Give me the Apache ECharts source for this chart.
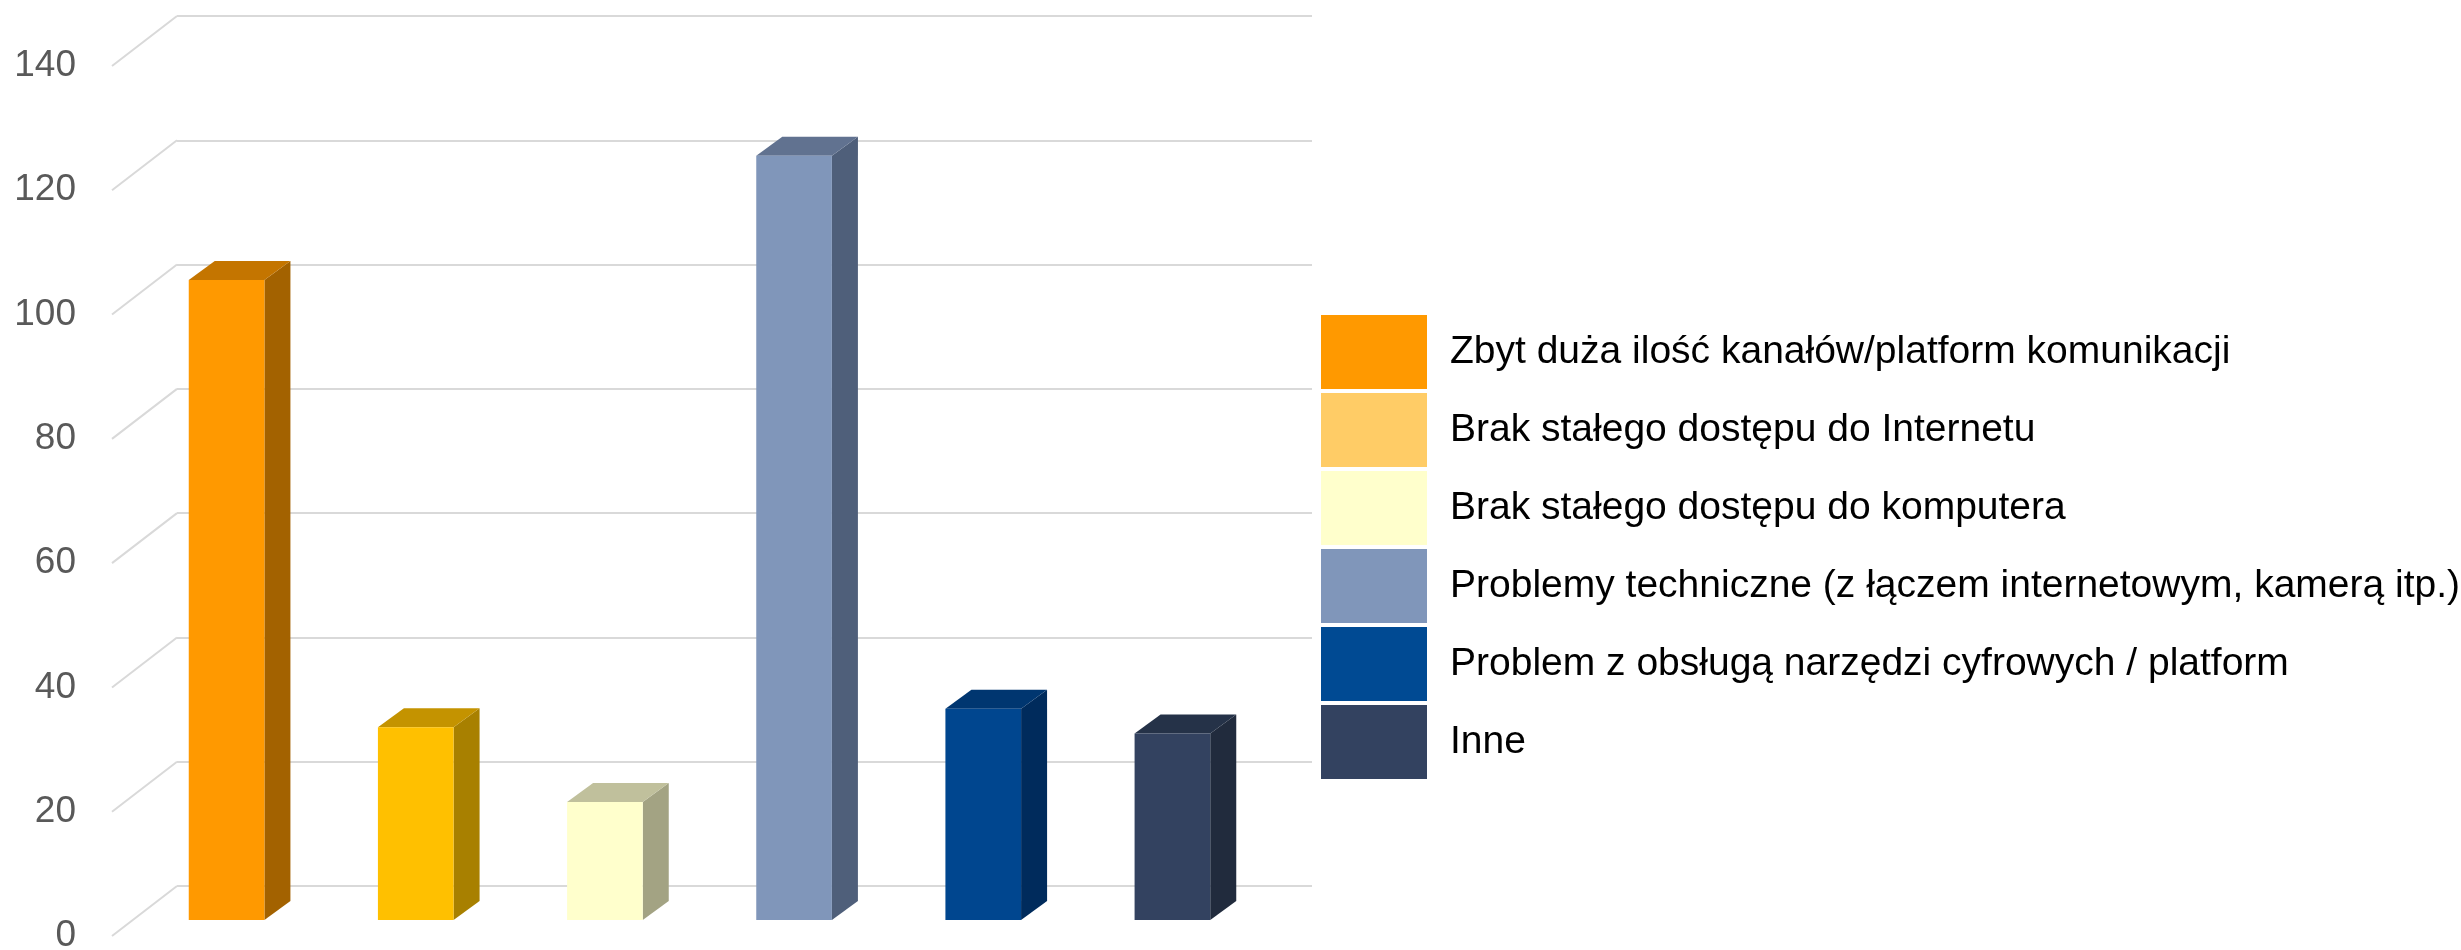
<!DOCTYPE html>
<html>
<head>
<meta charset="utf-8">
<script src="https://cdn.jsdelivr.net/npm/echarts@6/dist/echarts.min.js"></script>
<style>
    html, body { margin: 0; padding: 0; background: #fff; }
    #chart { width: 2461px; height: 950px; }
</style>
</head>
<body>
<div id="chart"></div>
<script>
const categories = [
    'Zbyt duża ilość kanałów/platform komunikacji',
    'Brak stałego dostępu do Internetu',
    'Brak stałego dostępu do komputera',
    'Problemy techniczne (z łączem internetowym, kamerą itp.)',
    'Problem z obsługą narzędzi cyfrowych / platform',
    'Inne'
];
const values = [103, 31, 19, 123, 34, 30];
const yTicks = [0, 20, 40, 60, 80, 100, 120, 140];

// colours of the bar faces and legend swatches
const frontColors = ['#FF9900', '#FFC000', '#FFFFCC', '#8096BA', '#00468F', '#334260'];
const topColors = ['#C47500', '#C49300', '#C0C09C', '#617290', '#003670', '#253248'];
const sideColors = ['#A36200', '#A88000', '#A3A383', '#4F5F7A', '#002B5C', '#212B3D'];
const legendColors = ['#FF9900', '#FFCC66', '#FFFFCC', '#8096BA', '#004A93', '#334260'];

// 3d look: floor depth and bar depth
const wallDx = -65, wallDy = 50;
const frontDx = -45, frontDy = 34;
const barDx = 26, barDy = -19;

function initChart() {
    let chart = echarts.init(document.getElementById('chart'));

    function renderBar(params, api) {
        let idx = api.value(0);
        let top = api.coord([idx, api.value(1)]);
        let base = api.coord([idx, 0]);
        let bw = api.size([1, 0])[0] * 0.4;
        let x0 = top[0] + frontDx - bw / 2;
        let x1 = x0 + bw;
        let yTop = top[1] + frontDy;
        let yBot = base[1] + frontDy;
        let i = params.seriesIndex - 1;
        return {
            type: 'group',
            children: [
                {
                    type: 'polygon',
                    shape: {points: [[x1, yTop], [x1 + barDx, yTop + barDy], [x1 + barDx, yBot + barDy], [x1, yBot]]},
                    style: {fill: sideColors[i]}
                },
                {
                    type: 'polygon',
                    shape: {points: [[x0, yTop], [x0 + barDx, yTop + barDy], [x1 + barDx, yTop + barDy], [x1, yTop]]},
                    style: {fill: topColors[i]}
                },
                {
                    type: 'rect',
                    shape: {x: x0, y: yTop, width: bw, height: yBot - yTop},
                    style: {fill: frontColors[i]}
                }
            ]
        };
    }

    // diagonal floor lines plus the tick labels at their front ends
    function renderTick(params, api) {
        let v = api.value(1);
        let p = api.coord([0, v]);
        let x = params.coordSys.x;
        return {
            type: 'group',
            children: [
                {
                    type: 'line',
                    shape: {x1: x, y1: p[1], x2: x + wallDx, y2: p[1] + wallDy},
                    style: {stroke: '#D9D9D9', lineWidth: 2}
                },
                {
                    type: 'text',
                    x: x + wallDx - 36,
                    y: p[1] + wallDy,
                    style: {
                        text: String(v),
                        fill: '#595959',
                        font: '37px "Liberation Sans", Arial, sans-serif',
                        align: 'right',
                        verticalAlign: 'middle'
                    }
                }
            ]
        };
    }

    let series = [
        {
            name: 'ticks',
            type: 'custom',
            silent: true,
            data: yTicks.map(function (t) { return [0, t]; }),
            renderItem: renderTick
        }
    ];
    categories.forEach(function (name, i) {
        series.push({
            name: name,
            type: 'custom',
            itemStyle: {color: legendColors[i]},
            data: [[i, values[i]]],
            renderItem: renderBar
        });
    });

    let option = {
        animation: false,
        textStyle: {fontFamily: 'Liberation Sans, Arial, sans-serif'},
        grid: {left: 177, top: 16, width: 1135, height: 870},
        xAxis: {type: 'category', data: categories, show: false},
        yAxis: {
            type: 'value',
            min: 0,
            max: 140,
            interval: 20,
            axisLine: {show: false},
            axisTick: {show: false},
            axisLabel: {show: false},
            splitLine: {lineStyle: {color: '#D9D9D9', width: 2}}
        },
        legend: {
            orient: 'vertical',
            left: 1321,
            top: 315,
            padding: 0,
            icon: 'rect',
            itemWidth: 106,
            itemHeight: 74,
            itemGap: 4,
            selectedMode: false,
            textStyle: {color: '#000', fontSize: 39, padding: [0, 0, 0, 18]},
            data: categories.map(function (name, i) {
                return {name: name, itemStyle: {color: legendColors[i]}};
            })
        },
        series: series
    };
    chart.setOption(option);
}

initChart();
</script>
</body>
</html>
